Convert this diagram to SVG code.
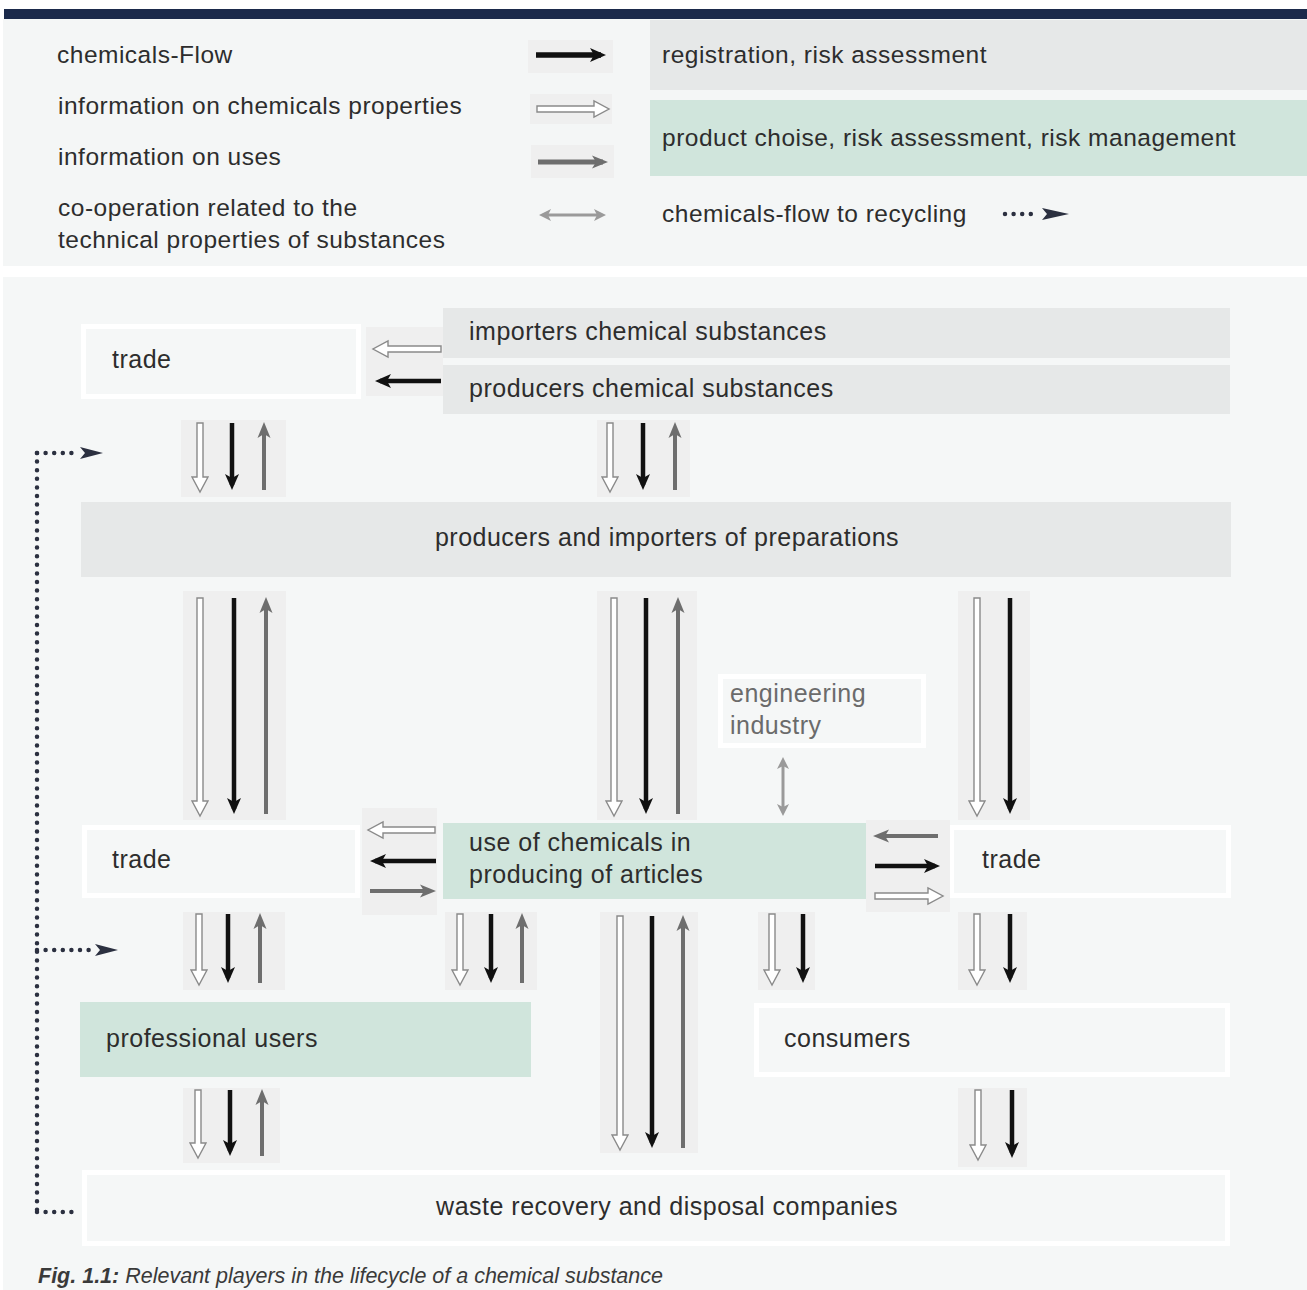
<svg xmlns="http://www.w3.org/2000/svg" width="1307" height="1290" viewBox="0 0 1307 1290">
<defs>
<style>
.t{font-family:"Liberation Sans",Arial,sans-serif;font-size:25px;letter-spacing:0.5px;fill:#2d2d2d}
.lg{font-family:"Liberation Sans",Arial,sans-serif;font-size:24.5px;letter-spacing:0.5px;fill:#2d2d2d}
.gbox{fill:#e6e8e8}
.green{fill:#d0e5dc}
.wbox{fill:#f5f7f7;stroke:#ffffff;stroke-width:5}
.abg{fill:#efefef}
.blk{stroke:#111111;stroke-width:4.5;fill:none}
.gry{stroke:#6e6e6e;stroke-width:4;fill:none}
.hol{fill:#ffffff;stroke:#8a8a8a;stroke-width:1.4}
.coop{stroke:#9a9a9a;stroke-width:3;fill:none}
.dot{stroke:#2b3040;stroke-width:4.5;stroke-linecap:round;stroke-dasharray:0 8.6;fill:none}
.dh{fill:#2b3040}
</style>
<marker id="hb" markerUnits="userSpaceOnUse" markerWidth="16" markerHeight="16" viewBox="0 0 16 16" refX="11" refY="8" orient="auto"><path d="M0,1 L16,8 L0,15 L4,8 Z" fill="#111111"/></marker>
<marker id="hg" markerUnits="userSpaceOnUse" markerWidth="16" markerHeight="16" viewBox="0 0 16 16" refX="11" refY="8" orient="auto"><path d="M0,1.5 L16,8 L0,14.5 L4,8 Z" fill="#6e6e6e"/></marker>
<marker id="hd" markerUnits="userSpaceOnUse" markerWidth="12" markerHeight="12" viewBox="0 0 12 12" refX="8" refY="6" orient="auto-start-reverse"><path d="M0,0 L12,6 L0,12 L3,6 Z" fill="#9a9a9a"/></marker>
</defs>

<rect x="0" y="0" width="1307" height="1290" fill="#ffffff"/>
<rect x="4" y="9" width="1303" height="10" fill="#1b2a4b"/>
<rect x="3" y="19" width="1304" height="247" fill="#f4f6f6"/>
<rect x="3" y="277" width="1304" height="1013" fill="#f5f7f7"/>

<g id="legend">
<rect class="gbox" x="650" y="20" width="657" height="70"/>
<rect class="green" x="650" y="100" width="657" height="76"/>
<rect class="abg" x="528" y="40" width="85" height="33"/>
<rect class="abg" x="530" y="94" width="82" height="30"/>
<rect class="abg" x="531" y="145" width="83" height="33"/>
<text class="lg" x="57" y="63">chemicals-Flow</text>
<text class="lg" x="58" y="114">information on chemicals properties</text>
<text class="lg" x="58" y="165">information on uses</text>
<text class="lg" x="58" y="216">co-operation related to the</text>
<text class="lg" x="58" y="248">technical properties of substances</text>
<text class="lg" x="662" y="63">registration, risk assessment</text>
<text class="lg" x="662" y="146">product choise, risk assessment, risk management</text>
<text class="lg" x="662" y="222">chemicals-flow to recycling</text>
<line class="blk" x1="536" y1="55" x2="601" y2="55" style="stroke-width:5.5" marker-end="url(#hb)"/>
<path class="hol" d="M537,106 H594 V101 L609,109 L594,117 V112 H537 Z"/>
<line class="gry" x1="538" y1="162" x2="603" y2="162" style="stroke-width:5" marker-end="url(#hg)"/>
<line class="coop" x1="543" y1="215" x2="602" y2="215" marker-start="url(#hd)" marker-end="url(#hd)"/>
<line class="dot" x1="1005" y1="214" x2="1036" y2="214"/>
<path class="dh" d="M1042,208 L1069,214 L1042,220 L1047,214 Z"/>
</g>

<g id="n-trade-top"><rect class="wbox" x="83.5" y="326.5" width="275" height="70"/><text class="t" x="112" y="368">trade</text></g>
<g id="n-importers"><rect class="gbox" x="443" y="308" width="787" height="50"/><text class="t" x="469" y="340">importers chemical substances</text></g>
<g id="n-producers"><rect class="gbox" x="443" y="365" width="787" height="49"/><text class="t" x="469" y="397">producers chemical substances</text></g>
<g id="n-preparations"><rect class="gbox" x="81" y="502" width="1150" height="75"/><text class="t" x="667" y="546" text-anchor="middle">producers and importers of preparations</text></g>
<g id="n-engineering"><rect class="wbox" x="720.5" y="676.5" width="203" height="69"/><text class="t" x="730" y="702" style="fill:#6b6b6b">engineering</text><text class="t" x="730" y="734" style="fill:#6b6b6b">industry</text></g>
<g id="n-trade-left"><rect class="wbox" x="84.5" y="827.5" width="273" height="68"/><text class="t" x="112" y="868">trade</text></g>
<g id="n-use"><rect class="green" x="443" y="823" width="423" height="76"/><text class="t" x="469" y="851">use of chemicals in</text><text class="t" x="469" y="883">producing of articles</text></g>
<g id="n-trade-right"><rect class="wbox" x="951.5" y="827.5" width="277" height="68"/><text class="t" x="982" y="868">trade</text></g>
<g id="n-professional"><rect class="green" x="80" y="1002" width="451" height="75"/><text class="t" x="106" y="1047">professional users</text></g>
<g id="n-consumers"><rect class="wbox" x="756.5" y="1005.5" width="471" height="69"/><text class="t" x="784" y="1047">consumers</text></g>
<g id="n-waste"><rect class="wbox" x="84.5" y="1172.5" width="1143" height="71"/><text class="t" x="667" y="1215" text-anchor="middle">waste recovery and disposal companies</text></g>

<g id="connectors">
<rect class="abg" x="366" y="327" width="77" height="69"/>
<rect class="abg" x="181" y="420" width="105" height="77"/>
<rect class="abg" x="597" y="420" width="93" height="77"/>
<rect class="abg" x="183" y="591" width="103" height="229"/>
<rect class="abg" x="597" y="591" width="100" height="229"/>
<rect class="abg" x="958" y="591" width="72" height="229"/>
<rect class="abg" x="362" y="808" width="75" height="107"/>
<rect class="abg" x="866" y="820" width="84" height="92"/>
<rect class="abg" x="183" y="912" width="102" height="78"/>
<rect class="abg" x="445" y="912" width="92" height="78"/>
<rect class="abg" x="600" y="912" width="98" height="241"/>
<rect class="abg" x="758" y="912" width="57" height="78"/>
<rect class="abg" x="958" y="912" width="69" height="78"/>
<rect class="abg" x="183" y="1088" width="97" height="75"/>
<rect class="abg" x="958" y="1088" width="69" height="79"/>

<path class="hol" d="M441,346 H388 V341 L373,349 L388,357 V352 H441 Z"/>
<line class="blk" x1="441" y1="381" x2="380" y2="381" marker-end="url(#hb)"/>

<path class="hol" d="M197,423 H203 V477 H208 L200,492 L192,477 H197 Z"/>
<line class="blk" x1="232" y1="423" x2="232" y2="485" marker-end="url(#hb)"/>
<line class="gry" x1="264" y1="490" x2="264" y2="427" marker-end="url(#hg)"/>
<path class="hol" d="M607,423 H613 V477 H618 L610,492 L602,477 H607 Z"/>
<line class="blk" x1="643" y1="423" x2="643" y2="485" marker-end="url(#hb)"/>
<line class="gry" x1="675" y1="490" x2="675" y2="427" marker-end="url(#hg)"/>

<path class="hol" d="M197,598 H203 V801 H208 L200,816 L192,801 H197 Z"/>
<line class="blk" x1="234" y1="598" x2="234" y2="809" marker-end="url(#hb)"/>
<line class="gry" x1="266" y1="814" x2="266" y2="602" marker-end="url(#hg)"/>
<path class="hol" d="M611,598 H617 V801 H622 L614,816 L606,801 H611 Z"/>
<line class="blk" x1="646" y1="598" x2="646" y2="809" marker-end="url(#hb)"/>
<line class="gry" x1="678" y1="814" x2="678" y2="602" marker-end="url(#hg)"/>
<path class="hol" d="M974,598 H980 V801 H985 L977,816 L969,801 H974 Z"/>
<line class="blk" x1="1010" y1="598" x2="1010" y2="809" marker-end="url(#hb)"/>

<line class="coop" x1="783" y1="761" x2="783" y2="812" marker-start="url(#hd)" marker-end="url(#hd)"/>

<path class="hol" d="M435,827 H383 V822 L368,830 L383,838 V833 H435 Z"/>
<line class="blk" x1="436" y1="861" x2="375" y2="861" marker-end="url(#hb)"/>
<line class="gry" x1="370" y1="891" x2="431" y2="891" marker-end="url(#hg)"/>
<line class="gry" x1="938" y1="836" x2="878" y2="836" marker-end="url(#hg)"/>
<line class="blk" x1="875" y1="866" x2="935" y2="866" marker-end="url(#hb)"/>
<path class="hol" d="M875,893 H928 V888 L943,896 L928,904 V899 H875 Z"/>

<path class="hol" d="M196,914 H202 V970 H207 L199,985 L191,970 H196 Z"/>
<line class="blk" x1="228" y1="914" x2="228" y2="978" marker-end="url(#hb)"/>
<line class="gry" x1="260" y1="983" x2="260" y2="918" marker-end="url(#hg)"/>
<path class="hol" d="M457,914 H463 V970 H468 L460,985 L452,970 H457 Z"/>
<line class="blk" x1="491" y1="914" x2="491" y2="978" marker-end="url(#hb)"/>
<line class="gry" x1="522" y1="983" x2="522" y2="918" marker-end="url(#hg)"/>
<path class="hol" d="M617,916 H623 V1135 H628 L620,1150 L612,1135 H617 Z"/>
<line class="blk" x1="652" y1="916" x2="652" y2="1143" marker-end="url(#hb)"/>
<line class="gry" x1="683" y1="1148" x2="683" y2="920" marker-end="url(#hg)"/>
<path class="hol" d="M769,914 H775 V970 H780 L772,985 L764,970 H769 Z"/>
<line class="blk" x1="803" y1="914" x2="803" y2="978" marker-end="url(#hb)"/>
<path class="hol" d="M974,914 H980 V970 H985 L977,985 L969,970 H974 Z"/>
<line class="blk" x1="1010" y1="914" x2="1010" y2="978" marker-end="url(#hb)"/>

<path class="hol" d="M195,1090 H201 V1143 H206 L198,1158 L190,1143 H195 Z"/>
<line class="blk" x1="230" y1="1090" x2="230" y2="1151" marker-end="url(#hb)"/>
<line class="gry" x1="262" y1="1156" x2="262" y2="1094" marker-end="url(#hg)"/>
<path class="hol" d="M975,1090 H981 V1145 H986 L978,1160 L970,1145 H975 Z"/>
<line class="blk" x1="1012" y1="1090" x2="1012" y2="1153" marker-end="url(#hb)"/>

<line class="dot" x1="37" y1="453" x2="37" y2="1212"/>
<line class="dot" x1="37" y1="453" x2="75" y2="453"/>
<path class="dh" d="M80,447 L103,453 L80,459 L85,453 Z"/>
<line class="dot" x1="37" y1="950" x2="90" y2="950"/>
<path class="dh" d="M95,944 L118,950 L95,956 L100,950 Z"/>
<line class="dot" x1="37" y1="1212" x2="80" y2="1212"/>
</g>

<text x="38" y="1283" style="font-family:'Liberation Sans',Arial,sans-serif;font-size:21.5px;font-style:italic;fill:#3a3a3a"><tspan font-weight="bold">Fig. 1.1:</tspan> Relevant players in the lifecycle of a chemical substance</text>
</svg>
